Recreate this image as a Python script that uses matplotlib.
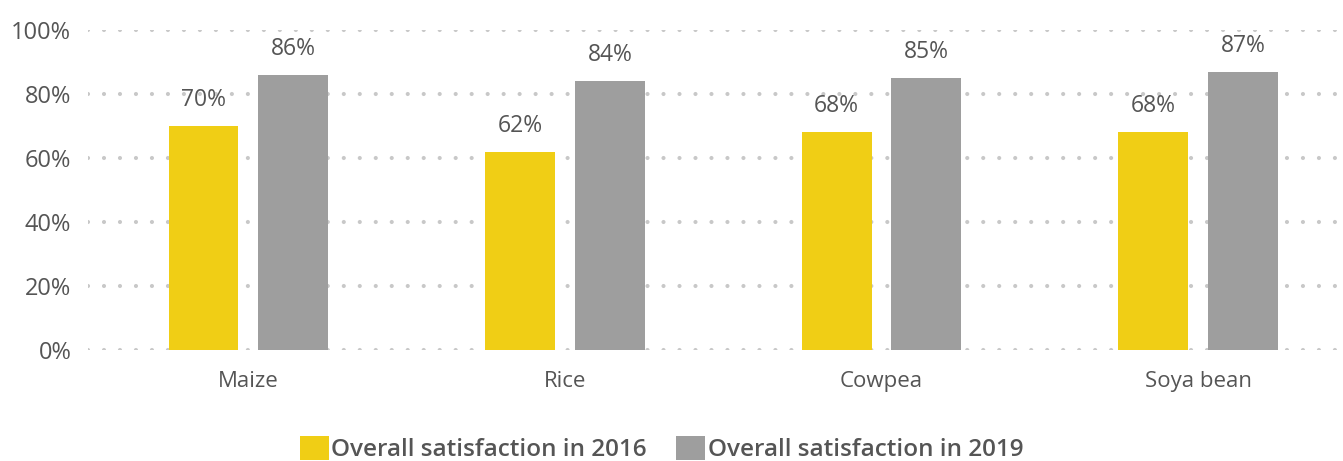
import matplotlib
matplotlib.use("Agg")
import matplotlib.pyplot as plt
import numpy as np

categories = ["Maize", "Rice", "Cowpea", "Soya bean"]
sat_2016 = [70, 62, 68, 68]
sat_2019 = [86, 84, 85, 87]
series_names = ["Overall satisfaction in 2016", "Overall satisfaction in 2019"]
yticks = [0, 20, 40, 60, 80, 100]

plt.rcParams['font.family'] = ['Open Sans', 'DejaVu Sans']
plt.rcParams['lines.scale_dashes'] = False
text_col = '#555555'
yellow = '#F0CE15'
grey = '#9E9E9E'

fig = plt.figure(figsize=(13.43, 4.61), dpi=100)
ax = fig.add_axes([0.0655, 0.2408, 0.9345, 0.6942])

x = np.arange(len(categories))
w = 0.221
off = 0.142
b1 = ax.bar(x - off, sat_2016, w, color=yellow, label=series_names[0], zorder=2)
b2 = ax.bar(x + off, sat_2019, w, color=grey, label=series_names[1], zorder=2)

for bars, vals in ((b1, sat_2016), (b2, sat_2019)):
    for r, v in zip(bars, vals):
        ax.annotate(f"{v}%", (r.get_x() + r.get_width() / 2, v), xytext=(0, 10),
                    textcoords='offset points', ha='center', va='bottom',
                    fontsize=16.5, color=text_col)

ax.set_xlim(-0.507, 3.458)
ax.set_ylim(0, 100)
ax.set_yticks(yticks)
ax.set_yticklabels([f"{t}%" for t in yticks])
ax.set_xticks(x)
ax.set_xticklabels(categories)
ax.tick_params(axis='y', length=0, pad=12, labelsize=17, labelcolor=text_col)
ax.tick_params(axis='x', length=0, pad=15, labelsize=16, labelcolor=text_col)
for s in ax.spines.values():
    s.set_visible(False)
ax.yaxis.grid(True, color='#c8c8c8', linewidth=3, linestyle=(0, (0.01, 11.5)), zorder=0)
for gl in ax.get_ygridlines():
    gl.set_dash_capstyle('round')
ax.set_axisbelow(True)

leg = fig.legend(loc='lower center', bbox_to_anchor=(0.4926, -0.05), ncol=2, frameon=False,
                 prop={'size': 17.5, 'weight': 'semibold'}, handlelength=1.2, handleheight=1.2,
                 handletextpad=0.1, columnspacing=1.2)
for t in leg.get_texts():
    t.set_color(text_col)

fig.savefig("out.png", dpi=100)
